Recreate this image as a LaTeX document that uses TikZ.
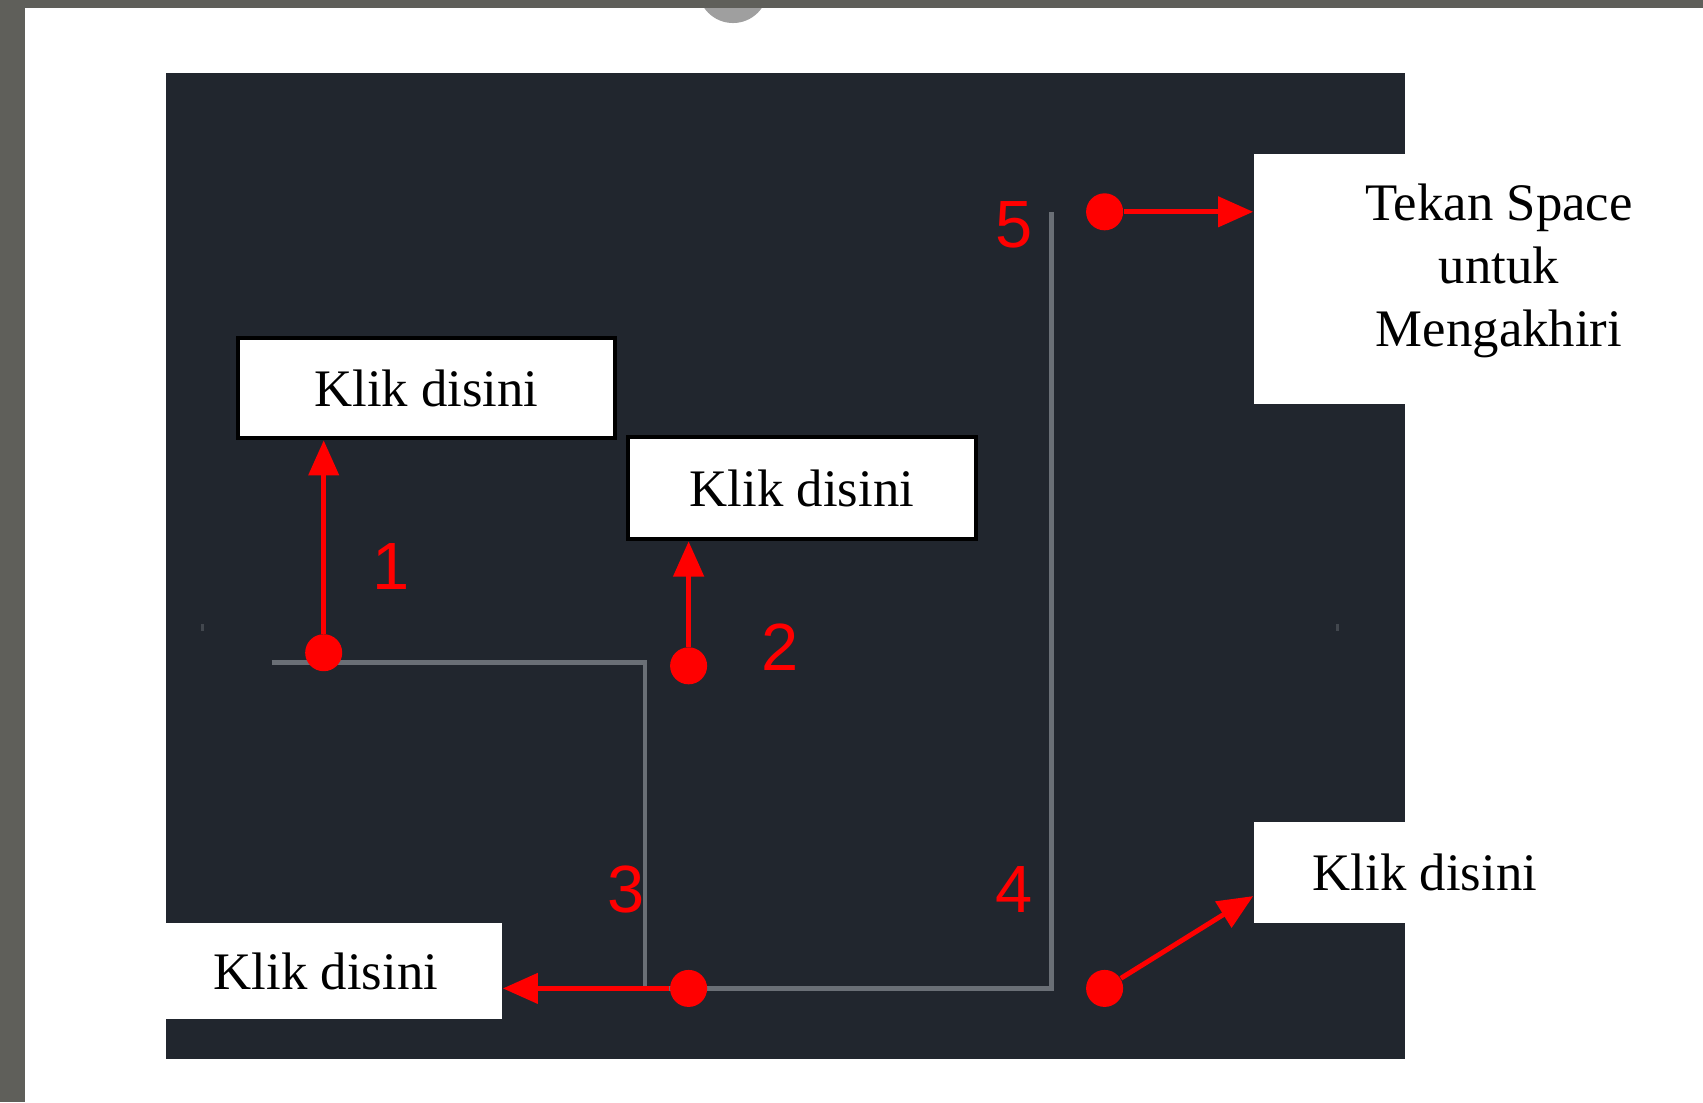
\documentclass[tikz,border=0pt]{standalone}
\usepackage{fontspec}
\setmainfont{Liberation Serif}
\newfontfamily\numfont{Liberation Sans}
\usetikzlibrary{positioning,calc,arrows.meta}

\definecolor{framegrey}{RGB}{95,95,90}
\definecolor{cadbg}{RGB}{33,38,46}
\definecolor{polyline}{RGB}{106,111,118}
\definecolor{pickred}{RGB}{255,0,0}

\begin{document}
\begin{tikzpicture}[
    x=0.01cm, y=-0.01cm,
    pick_point/.style={circle,fill=pickred,inner sep=0pt,minimum size=0.37cm},
    click_box/.style={rectangle,draw=black,line width=1.3pt,fill=white,inner sep=0pt,font=\fontsize{15}{18}\selectfont},
    note_box/.style={rectangle,fill=white,inner sep=0pt,font=\fontsize{15}{18}\selectfont},
    step_num/.style={text=pickred,inner sep=0pt,font=\numfont\fontsize{19}{22}\selectfont},
    pick_arrow/.style={pickred,line width=1.4pt,-{Triangle[length=10pt,width=8.5pt]}}
]
\useasboundingbox (0,0) rectangle (1703,1102);

% Window frame and the icon cut by it
\begin{scope}
    \clip (600,8) rectangle (860,40);
    \fill[gray!75] (733,-12) circle (0.35cm);
\end{scope}
\fill[framegrey] (0,0) rectangle (1703,8);
\fill[framegrey] (0,0) rectangle (25,1102);

% Drawing area
\fill[cadbg] (166,73) rectangle (1405,1059);
\fill[polyline!45!cadbg] (201,624) rectangle (204,631);
\fill[polyline!45!cadbg] (1336,624) rectangle (1339,631);

% Polyline drawn so far
\draw[polyline,line width=1.4pt] (271.5,662.5) -- (645,662.5) -- (645,988.4)
    -- (1051.3,988.4) -- (1051.3,211.8);

% Picked points
\foreach \n/\x/\y in {d1/323.7/652.7, d2/688.6/665.8, d3/688.6/988.4, d4/1104.6/988.4, d5/1104.6/211.8}
    \node[pick_point] (\n) at (\x,\y) {};

% Step numbers
\foreach \k/\x/\y in {1/391/566, 2/780/647, 3/626/889, 4/1014/889, 5/1014/225}
    \node[step_num] (n\k) at (\x,\y) {\k};

% Labels
\node[click_box,minimum width=3.77cm,minimum height=1cm] (b1) at (426.5,388) {Klik disini};
\node[click_box,minimum width=3.48cm,minimum height=1.02cm] (b2) at (802,488) {Klik disini};
\node[note_box,minimum width=3.52cm,minimum height=0.96cm] (b3) at (326,971) {Klik disini};
\node[note_box,minimum width=3.42cm,minimum height=1.01cm] (b4) at (1425,872.5) {Klik disini};
\node[note_box,minimum width=4.49cm,minimum height=2.5cm] (w5) at (1478.5,279) {};
\node[note_box,fill=none,align=center] (b5) at (1499,271) {Tekan Space\\untuk\\Mengakhiri};

% Arrows from points to labels
\draw[pick_arrow] (d1) -- (d1 |- b1.south);
\draw[pick_arrow] (d2) -- (d2 |- b2.south);
\draw[pick_arrow] (d3) -- (d3 -| b3.east);
\draw[pick_arrow] (d4) -- ($(b4.south west)!0.27!(b4.north west)$);
\draw[pick_arrow] (d5) -- (d5 -| w5.west);

\end{tikzpicture}
\end{document}
